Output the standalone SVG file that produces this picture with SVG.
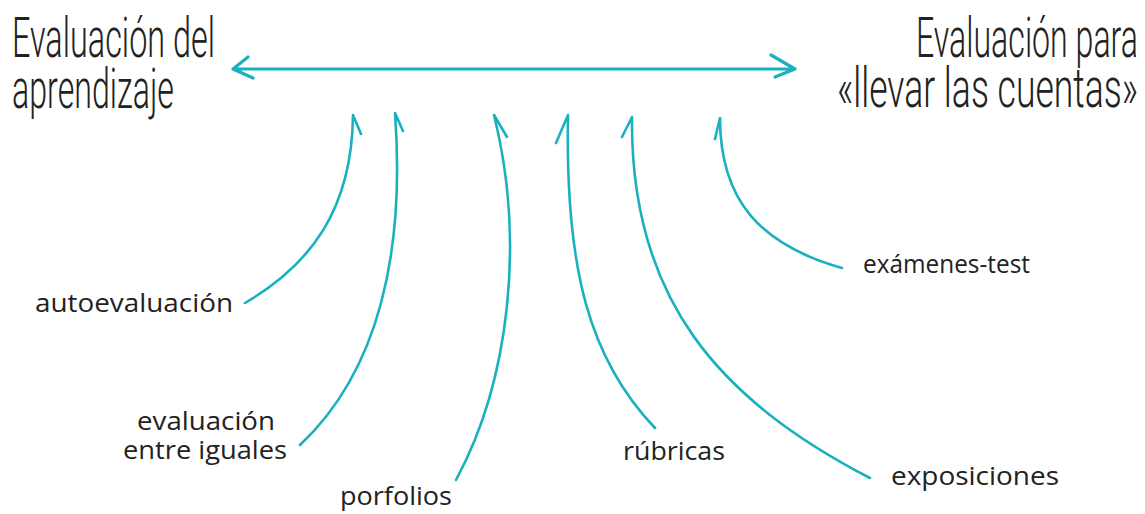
<svg xmlns="http://www.w3.org/2000/svg" width="1145" height="514" viewBox="0 0 1145 514">
<style>
.h{font-family:Roboto,"Liberation Sans",sans-serif;font-weight:300;font-size:56px;fill:#222}
.l{font-family:"Open Sans","Liberation Sans",sans-serif;font-size:26px;fill:#222}
.c{fill:none;stroke:#1ab1be;stroke-width:2.6;stroke-linecap:round;stroke-linejoin:round}
.m{fill:none;stroke:#1ab1be;stroke-width:3.2;stroke-linecap:round;stroke-linejoin:round}
</style>
<rect width="1145" height="514" fill="#fff"/>
<g id="heading-left">
<text class="h" x="12" y="57" textLength="203" lengthAdjust="spacingAndGlyphs">Evaluación del</text>
<text class="h" x="12" y="108" textLength="162" lengthAdjust="spacingAndGlyphs">aprendizaje</text>
</g>
<g id="heading-right">
<text class="h" x="916" y="57" textLength="222" lengthAdjust="spacingAndGlyphs">Evaluación para</text>
<text class="h" x="837" y="107" textLength="301" lengthAdjust="spacingAndGlyphs">«llevar las cuentas»</text>
</g>
<g id="autoevaluacion"><text class="l" x="35" y="312" textLength="198" lengthAdjust="spacingAndGlyphs">autoevaluación</text></g>
<g id="evaluacion-entre-iguales">
<text class="l" x="137" y="430" textLength="138" lengthAdjust="spacingAndGlyphs">evaluación</text>
<text class="l" x="123" y="459" textLength="164" lengthAdjust="spacingAndGlyphs">entre iguales</text>
</g>
<g id="porfolios"><text class="l" x="340" y="505" textLength="112" lengthAdjust="spacingAndGlyphs">porfolios</text></g>
<g id="rubricas"><text class="l" x="623" y="460" textLength="102" lengthAdjust="spacingAndGlyphs">rúbricas</text></g>
<g id="exposiciones"><text class="l" x="891" y="485" textLength="168" lengthAdjust="spacingAndGlyphs">exposiciones</text></g>
<g id="examenes-test"><text class="l" x="863" y="273" textLength="167" lengthAdjust="spacingAndGlyphs">exámenes-test</text></g>
<g id="connectors">
<path class="m" d="M233 69 L795 69 M248 57 L233 69 L253 78 M771 55 L795 69 L775 77"/>
<path class="c" d="M245 303 C310 265 352 210 353 115 L361 134"/>
<path class="c" d="M300 445 C380 370 405 250 395 113 L403 131"/>
<path class="c" d="M456 480 C510 380 525 240 494 115 L507 137"/>
<path class="c" d="M655 428 C590 360 565 270 568 115 L556 143"/>
<path class="c" d="M870 478 C720 400 630 300 632 117 L622 137"/>
<path class="c" d="M842 268 C760 245 720 200 720 118 L715 139"/>
</g>
</svg>
